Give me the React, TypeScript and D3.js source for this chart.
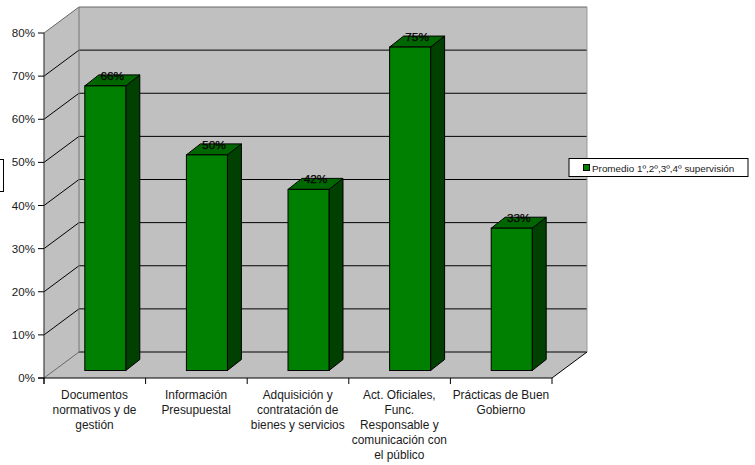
import React from "react";
import * as d3 from "d3";

const categories: string[][] = [
  ["Documentos", "normativos y de", "gestión"],
  ["Información", "Presupuestal"],
  ["Adquisición y", "contratación de", "bienes y servicios"],
  ["Act. Oficiales,", "Func.", "Responsable y", "comunicación con", "el público"],
  ["Prácticas de Buen", "Gobierno"],
];
const values = [66, 50, 42, 75, 33];
const ticks = [0, 10, 20, 30, 40, 50, 60, 70, 80];
const legendLabel = "Promedio 1º,2º,3º,4º supervisión";

const W = 755, H = 465;
const FONT = "'Liberation Sans', Arial, sans-serif";
const y = d3.scaleLinear().domain([0, 80]).range([378, 33]);
const x = d3.scaleBand<number>().domain(d3.range(5)).range([44, 552]);
const DX = 35, DY = -26;
const BAR_W = 41, BDX = 14, BDY = -11, ZX = 10.5, ZY = -7.5;
const GREEN = "#008000", GTOP = "#006600", GSIDE = "#004000";
const TEXT = "#1a1a1a";

const pts = (p: number[][]) => p.map((q) => q.join(",")).join(" ");

export default function App() {
  const y0 = y(0), yTop = y(80), xL = x.range()[0], xR = x.range()[1];
  return (
    <svg width={W} height={H} viewBox={`0 0 ${W} ${H}`} fontFamily={FONT}
      style={{ position: "absolute", left: 0, top: 0, background: "#fff" }}>
      {/* walls & floor */}
      <polygon points={pts([[xL, yTop], [xL + DX, yTop + DY], [xL + DX, y0 + DY], [xL, y0]])} fill="#C0C0C0" />
      <rect x={xL + DX} y={yTop + DY} width={xR - xL} height={y0 - yTop} fill="#C0C0C0" />
      <polygon points={pts([[xL, y0], [xL + DX, y0 + DY], [xR + DX, y0 + DY], [xR, y0]])} fill="#C0C0C0" />
      {/* gridlines */}
      {ticks.map((t) => (
        <g key={t} strokeWidth={1} fill="none">
          <line x1={xL} x2={xL + DX} y1={y(t)} y2={y(t) + DY} stroke={t === 0 || t === 80 ? "#666" : "#000"} />
          <line x1={xL + DX} x2={xR + DX} y1={y(t) + DY} y2={y(t) + DY} stroke={t === 80 ? "#666" : "#000"} />
        </g>
      ))}
      <line x1={xL + DX} x2={xL + DX} y1={yTop + DY} y2={y0 + DY} stroke="#777" />
      <line x1={xR + DX} x2={xR + DX} y1={yTop + DY} y2={y0 + DY} stroke="#999" />
      <line x1={xR} x2={xR + DX} y1={y0} y2={y0 + DY} stroke="#000" />
      {/* bars */}
      {values.map((v, i) => {
        const x0 = (x(i) as number) + x.bandwidth() / 2 + ZX - BAR_W / 2;
        const x1 = x0 + BAR_W;
        const b = y0 + ZY;
        const t = b - (y0 - y(v));
        return (
          <g key={i} stroke="#000" strokeWidth={1} strokeLinejoin="miter">
            <polygon points={pts([[x1, t], [x1 + BDX, t + BDY], [x1 + BDX, b + BDY], [x1, b]])} fill={GSIDE} />
            <polygon points={pts([[x0, t], [x0 + BDX, t + BDY], [x1 + BDX, t + BDY], [x1, t]])} fill={GTOP} />
            <rect x={x0} y={t} width={BAR_W} height={b - t} fill={GREEN} />
            <text x={x0 + BAR_W / 2 + 7} y={t - 6} textAnchor="middle" fontSize={11.8} fill="#000" stroke="#000" strokeWidth={0.25}>{`${v}%`}</text>
          </g>
        );
      })}
      {/* axes */}
      <line x1={xL} x2={xL} y1={yTop} y2={y0 + 6} stroke="#404040" strokeWidth={1.2} />
      <line x1={xL - 6} x2={xR} y1={y0} y2={y0} stroke="#000" />
      {ticks.map((t) => (
        <g key={t}>
          <line x1={xL - 6} x2={xL} y1={y(t)} y2={y(t)} stroke="#000" />
          <text x={xL - 9} y={y(t) + 4} textAnchor="end" fontSize={11.6} fill={TEXT}>{`${t}%`}</text>
        </g>
      ))}
      {d3.range(6).map((i) => {
        const px = xL + i * x.step();
        return <line key={i} x1={px} x2={px} y1={y0} y2={y0 + 6} stroke="#000" />;
      })}
      {categories.map((lines, i) => (
        <text key={i} textAnchor="middle" fontSize={11.9} fill={TEXT}>
          {lines.map((l, j) => (
            <tspan key={j} x={(x(i) as number) + x.bandwidth() / 2 - 0.3} y={398.5 + j * 15}>{l}</tspan>
          ))}
        </text>
      ))}
      {/* legend */}
      <rect x={569} y={158.5} width={179} height={18} fill="#fff" stroke="#000" />
      <rect x={583.5} y={164.5} width={6} height={6} fill={GREEN} stroke="#000" />
      <text x={592} y={171.5} fontSize={9.9} fill={TEXT}>{legendLabel}</text>
      {/* clipped box at left edge */}
      <rect x={-10} y={159.5} width={13.5} height={32} fill="#fff" stroke="#000" />
    </svg>
  );
}
